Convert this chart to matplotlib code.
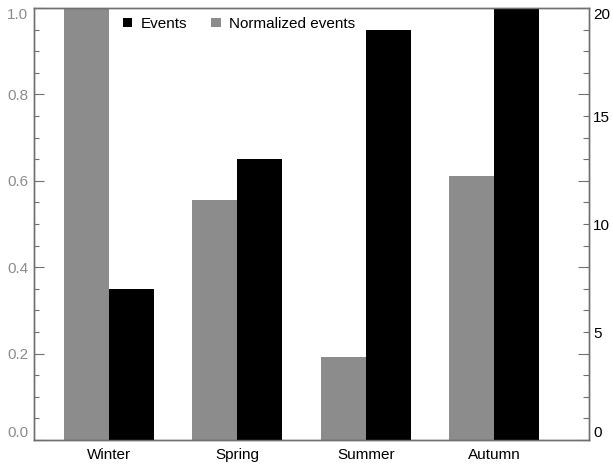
import matplotlib
matplotlib.use("Agg")
import matplotlib.pyplot as plt
from matplotlib.ticker import FixedLocator, FuncFormatter
import numpy as np

plt.rcParams['font.family'] = ['Liberation Sans', 'DejaVu Sans']

seasons = ["Winter", "Spring", "Summer", "Autumn"]
normalized = [1.0, 0.556, 0.193, 0.611]
events = [7, 13, 19, 20]

gray = '#8c8c8c'
spine_col = '#707070'
fs = 11

fig = plt.figure(figsize=(6.13, 4.66), dpi=100)
ax = fig.add_axes([34/613, 1-440/466, 555/613, 432/466])
ax2 = ax.twinx()

x = np.arange(len(seasons))
w = 0.35
b1 = ax.bar(x - w/2, normalized, width=w, color=gray, edgecolor='none', label='Normalized events')
b2 = ax2.bar(x + w/2, events, width=w, color='black', edgecolor='none', label='Events')

ax.set_xlim(-0.585, 3.74)
ax.set_ylim(0, 1.0)
ax2.set_ylim(0, 20)

for a in (ax, ax2):
    for s in a.spines.values():
        s.set_color(spine_col)
        s.set_linewidth(1.0)

# left axis
ax.yaxis.set_major_locator(FixedLocator([0, 0.2, 0.4, 0.6, 0.8, 1.0]))
ax.yaxis.set_minor_locator(FixedLocator([i * 0.05 for i in range(21) if i % 4 != 0]))
ax.yaxis.set_major_formatter(FuncFormatter(lambda v, p: "%.1f" % v))
ax.tick_params(axis='y', which='both', direction='in', color=spine_col, labelcolor=gray,
               labelsize=fs, pad=4, right=False)
ax.tick_params(axis='y', which='major', length=7.2, width=0.8)
ax.tick_params(axis='y', which='minor', length=3.6, width=0.8)

# bottom axis
ax.set_xticks(x)
ax.set_xticklabels(seasons)
ax.tick_params(axis='x', length=0, labelsize=fs, pad=6)

# right axis: same tick marks as left, labels every 5
ax2.yaxis.set_major_locator(FixedLocator([0, 4, 8, 12, 16, 20]))
ax2.yaxis.set_minor_locator(FixedLocator([v for v in range(21) if v % 4 != 0]))
ax2.yaxis.set_major_formatter(FuncFormatter(lambda v, p: "%d" % v if v % 5 == 0 else ""))
ax2.yaxis.set_minor_formatter(FuncFormatter(lambda v, p: "%d" % v if v % 5 == 0 else ""))
ax2.tick_params(axis='y', which='both', direction='in', color=spine_col, labelcolor='black',
                labelsize=fs, pad=3)
ax2.tick_params(axis='y', which='major', length=7.6, width=0.8)
ax2.tick_params(axis='y', which='minor', length=4.0, width=0.8)

leg = ax2.legend(handles=[b2, b1], labels=['Events', 'Normalized events'], ncol=2,
                 loc='upper left', bbox_to_anchor=(0.152, 0.99), frameon=False,
                 fontsize=fs, handlelength=0.6, handleheight=0.6, handletextpad=0.55,
                 columnspacing=1.6, borderaxespad=0, borderpad=0.3)

# keep end labels inside the frame, like the original
fig.canvas.draw()
lt = ax.yaxis.get_major_ticks()
lt[0].label1.set_va('bottom')
lt[-1].label1.set_va('top')
rt = ax2.yaxis.get_major_ticks()
rt[0].label2.set_va('bottom')
rt[-1].label2.set_va('top')

fig.savefig("out.png", dpi=100)
